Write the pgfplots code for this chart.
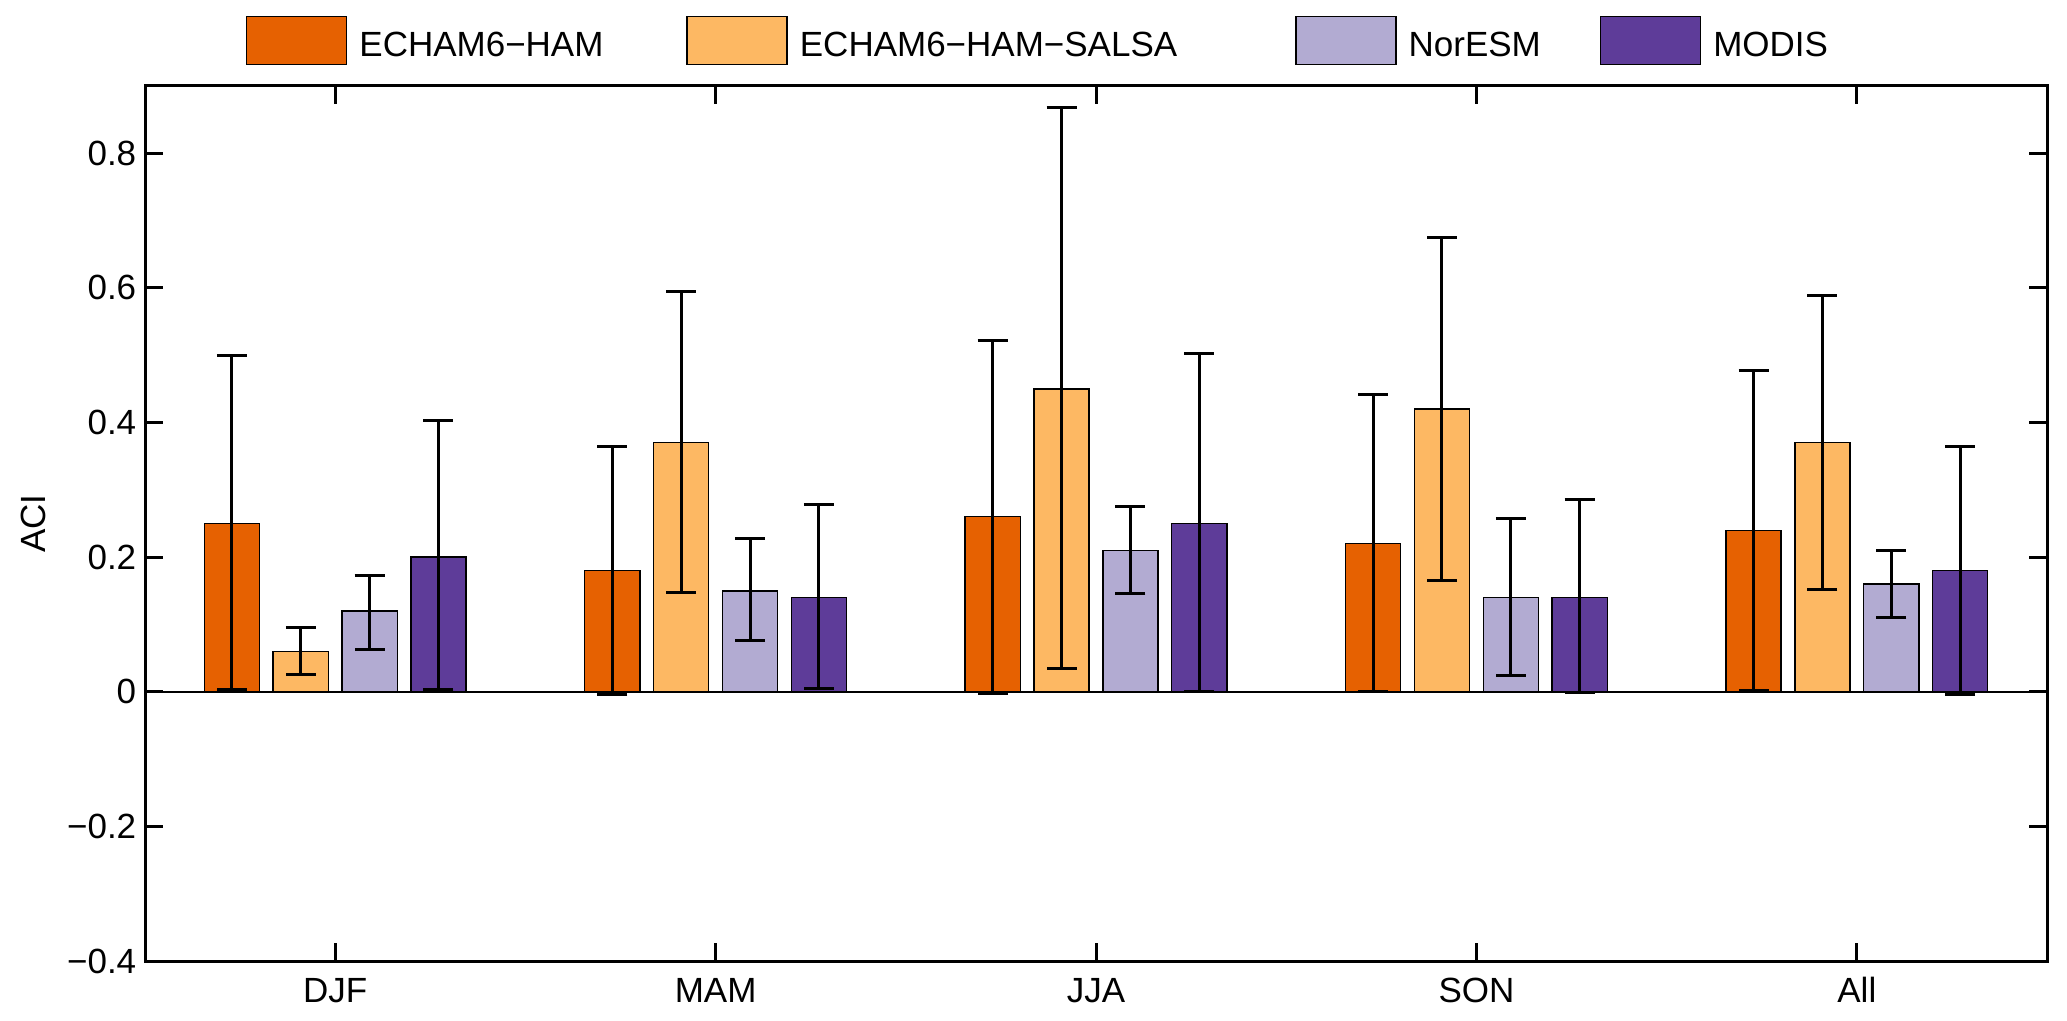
\documentclass[border=0pt]{standalone}
\usepackage{fontspec}
\setmainfont{Liberation Sans}
\usepackage{pgfplots}
\usepackage{pgfplotstable}
\pgfplotsset{compat=1.18}
\definecolor{cA}{HTML}{E66101}
\definecolor{cB}{HTML}{FDB863}
\definecolor{cC}{HTML}{B2ABD2}
\definecolor{cD}{HTML}{5E3C99}

% x = season index (1 DJF, 2 MAM, 3 JJA, 4 SON, 5 All); y = ACI; lo/hi = error bar ends
\pgfplotstableread{
x y lo hi
1 0.25 0.0035 0.499
2 0.18 -0.0035 0.364
3 0.26 -0.002 0.522
4 0.22 0.000 0.441
5 0.24 0.0025 0.478
}\tHAM
\pgfplotstableread{
x y lo hi
1 0.06 0.026 0.095
2 0.37 0.147 0.595
3 0.45 0.0345 0.8675
4 0.42 0.166 0.675
5 0.37 0.1516 0.589
}\tSALSA
\pgfplotstableread{
x y lo hi
1 0.12 0.063 0.1725
2 0.15 0.076 0.227
3 0.21 0.1466 0.276
4 0.14 0.024 0.258
5 0.16 0.111 0.2095
}\tNOR
\pgfplotstableread{
x y lo hi
1 0.20 0.0035 0.4035
2 0.14 0.0055 0.278
3 0.25 0.001 0.503
4 0.14 -0.001 0.285
5 0.18 -0.0035 0.365
}\tMODIS

\newcommand{\fs}{\fontsize{8.75}{10}\selectfont}
\newcommand{\legtxt}[1]{\raisebox{2.85pt}{#1}}

\pgfplotsset{
  aciBar/.style={ybar, bar width=0.145, bar shift=0pt, fill=#1, draw=black, line width=0.35pt,
    error bars/.cd, y dir=both, y explicit,
    error bar style={line width=0.75pt, black},
    error mark options={rotate=90, mark size=3.75pt, line width=0.75pt, black}},
}

\begin{document}
\begin{tikzpicture}
\begin{axis}[
  name=ax,
  scale only axis,
  width=475.5pt, height=218.75pt,
  xmin=0.5, xmax=5.5,
  ymin=-0.4, ymax=0.9,
  xtick={1,2,3,4,5},
  xticklabels={DJF,MAM,JJA,SON,All},
  ytick={-0.4,-0.2,0,0.2,0.4,0.6,0.8},
  yticklabels={−0.4,−0.2,0,0.2,0.4,0.6,0.8},
  minor tick num=0,
  xtick pos=both, ytick pos=both,
  tick align=inside,
  major tick length=4.5pt,
  tick style={black, line width=0.75pt},
  axis line style={line width=0.75pt},
  tick label style={font=\fs},
  label style={font=\fs},
  xticklabel style={anchor=base, inner sep=0pt, yshift=-10.25pt},
  yticklabel style={anchor=east, inner sep=0pt, xshift=-2pt},
  ylabel={ACI},
  ylabel style={at={(axis description cs:-0.0515,0.5)}, anchor=south, inner sep=0pt},
  legend image code/.code={\draw[#1, draw=black, line width=0.35pt] (0pt,-2.85pt) rectangle (25pt,9.15pt);},
  legend style={draw=none, fill=none, font=\fs, inner sep=0pt, outer sep=0pt,
    at={(axis description cs:0.0531,1.047)}, anchor=west,
    legend columns=4, column sep=0pt,
    nodes={inner sep=0pt, outer sep=0pt},
    /tikz/every odd column/.append style={column sep=3pt},
    /tikz/column 2/.style={column sep=20.75pt},
    /tikz/column 4/.style={column sep=29.5pt},
    /tikz/column 6/.style={column sep=14.75pt}},
  legend cell align=left,
]
\addplot[black, line width=0.5pt, forget plot] coordinates {(0.5,0) (5.5,0)};

\addplot[aciBar=cA]
  table[x expr=\thisrow{x}-0.2715, y=y, y error plus expr=\thisrow{hi}-\thisrow{y}, y error minus expr=\thisrow{y}-\thisrow{lo}] {\tHAM};
\addlegendentry{\legtxt{ECHAM6−HAM}}

\addplot[aciBar=cB]
  table[x expr=\thisrow{x}-0.0905, y=y, y error plus expr=\thisrow{hi}-\thisrow{y}, y error minus expr=\thisrow{y}-\thisrow{lo}] {\tSALSA};
\addlegendentry{\legtxt{ECHAM6−HAM−SALSA}}

\addplot[aciBar=cC]
  table[x expr=\thisrow{x}+0.0905, y=y, y error plus expr=\thisrow{hi}-\thisrow{y}, y error minus expr=\thisrow{y}-\thisrow{lo}] {\tNOR};
\addlegendentry{\legtxt{NorESM}}

\addplot[aciBar=cD]
  table[x expr=\thisrow{x}+0.2715, y=y, y error plus expr=\thisrow{hi}-\thisrow{y}, y error minus expr=\thisrow{y}-\thisrow{lo}] {\tMODIS};
\addlegendentry{\legtxt{MODIS}}
\end{axis}
\path ([shift={(-36.25pt,-14.75pt)}]ax.south west) rectangle ([shift={(5pt,21.5pt)}]ax.north east);
\end{tikzpicture}
\end{document}
